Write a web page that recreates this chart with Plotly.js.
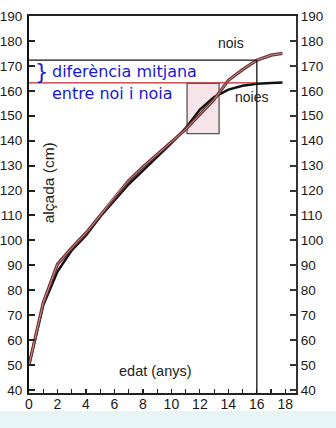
<!DOCTYPE html>
<html>
<head>
<meta charset="utf-8">
<script src="https://cdn.plot.ly/plotly-3.0.1.min.js"></script>
<style>html,body{margin:0;padding:0;background:#fff;}#chart{width:336px;height:428px;}</style>
</head>
<body>
<div id="chart"></div>
<script>
// ages (years)
const girlAges = [0, 1, 2, 3, 4, 5, 6, 7, 8, 9, 10, 11, 12, 13, 14, 15, 16, 17, 17.8];
const girlHeights = [50, 74, 87.5, 96, 102, 109.5, 116, 122.5, 128, 133.5, 139, 145, 152.5, 157.5, 160.5, 162, 162.8, 163.1, 163.3];
const boyAges = [0, 1, 2, 3, 4, 5, 6, 7, 8, 9, 10, 11, 12, 13, 14, 15, 16, 17, 17.8];
const boyHeights = [50, 75, 90.5, 97, 103, 110, 117.5, 124, 129.5, 134.5, 139.5, 144.5, 150.5, 156.5, 164.2, 168.5, 172.3, 174.3, 175];
// reference lines: mean adult heights and the growth-spurt box
const adultBoy = 172.3;
const adultGirl = 163.2;
const adultAge = 16;
const spurtAges = [11.1, 13.35];
const spurtHeights = [142.8, 163];
const yTicks = [40, 50, 60, 70, 80, 90, 100, 110, 120, 130, 140, 150, 160, 170, 180, 190];
const xTicks = [0, 2, 4, 6, 8, 10, 12, 14, 16, 18];

const tickFont = {family: 'Liberation Sans, Arial, sans-serif', size: 13.5, color: '#1a1a1a'};
const labelFont = {family: 'Liberation Sans, Arial, sans-serif', size: 14, color: '#222'};
const blueFont = {family: 'DejaVu Sans, sans-serif', size: 16, color: '#1818d4'};
const traces = [
  {x: girlAges, y: girlHeights, mode: 'lines', line: {color: '#111', width: 2.5}, hoverinfo: 'skip', showlegend: false},
  {x: boyAges, y: boyHeights, mode: 'lines', line: {color: '#6e3232', width: 3.2}, hoverinfo: 'skip', showlegend: false},
  {x: boyAges, y: boyHeights, mode: 'lines', line: {color: '#c98f8f', width: 1}, hoverinfo: 'skip', showlegend: false},
  {x: [], y: [], yaxis: 'y2', mode: 'lines', hoverinfo: 'skip', showlegend: false}
];
const yr = [38.8, 190];
const layout = {
  width: 336, height: 428,
  margin: {l: 29, r: 40, t: 16, b: 35},
  paper_bgcolor: '#ffffff', plot_bgcolor: '#ffffff',
  showlegend: false,
  xaxis: {
    range: [0, 18.75], tickvals: xTicks, ticks: 'inside', ticklen: 4, tickwidth: 1.2, tickcolor: '#222',
    minor: {dtick: 1, tick0: 0, ticks: 'inside', ticklen: 4, tickwidth: 1.2, tickcolor: '#222'},
    showline: true, linecolor: '#222', linewidth: 2, mirror: true, showgrid: false, zeroline: false,
    tickfont: {family: 'Liberation Sans, Arial, sans-serif', size: 14, color: '#1a1a1a'}, ticklabelstandoff: -3
  },
  yaxis: {
    range: yr, tickvals: yTicks, ticks: 'inside', ticklen: 6, tickwidth: 2, tickcolor: '#222',
    showline: true, linecolor: '#111', linewidth: 2, showgrid: false, zeroline: false,
    tickfont: tickFont, ticklabelstandoff: 2
  },
  yaxis2: {
    range: yr, tickvals: yTicks, overlaying: 'y', side: 'right', ticks: 'inside', ticklen: 6, tickwidth: 2, tickcolor: '#333',
    showline: true, linecolor: '#333', linewidth: 2, showgrid: false, zeroline: false,
    tickfont: tickFont, ticklabelstandoff: 0
  },
  shapes: [
    {type: 'rect', xref: 'paper', yref: 'paper', x0: -0.2, x1: 1.3, y0: -0.048, y1: -0.2, fillcolor: '#e8f5f7', line: {width: 0}, layer: 'below'},
    {type: 'rect', xref: 'x', yref: 'y', x0: spurtAges[0], x1: spurtAges[1], y0: spurtHeights[0], y1: spurtHeights[1], fillcolor: 'rgba(238,205,215,0.55)', line: {color: '#555', width: 1.3}, layer: 'below'},
    {type: 'line', xref: 'x', yref: 'y', x0: 0, x1: adultAge, y0: adultBoy, y1: adultBoy, line: {color: '#111', width: 1.3}},
    {type: 'line', xref: 'x', yref: 'y', x0: 0, x1: adultAge, y0: adultGirl, y1: adultGirl, line: {color: '#c02828', width: 1.3}},
    {type: 'line', xref: 'x', yref: 'y', x0: adultAge, x1: adultAge, y0: yr[0], y1: adultBoy, line: {color: '#111', width: 1.3}}
  ],
  annotations: [
    {x: 1.5, y: 167.9, xref: 'x', yref: 'y', text: 'diferència mitjana', showarrow: false, xanchor: 'left', yanchor: 'middle', font: blueFont},
    {x: 1.5, y: 159.1, xref: 'x', yref: 'y', text: 'entre noi i noia', showarrow: false, xanchor: 'left', yanchor: 'middle', font: blueFont},
    {x: 0.9, y: 167.7, xref: 'x', yref: 'y', text: '}', showarrow: false, xanchor: 'center', yanchor: 'middle', font: {family: 'DejaVu Sans, sans-serif', size: 21, color: '#1818d4'}},
    {x: 14.2, y: 179.2, xref: 'x', yref: 'y', text: 'nois', showarrow: false, font: labelFont},
    {x: 15.6, y: 157.5, xref: 'x', yref: 'y', text: 'noies', showarrow: false, font: labelFont},
    {x: 8.9, y: 47.6, xref: 'x', yref: 'y', text: 'edat (anys)', showarrow: false, font: {family: 'Liberation Sans, Arial, sans-serif', size: 14.5, color: '#222'}},
    {x: 1.33, y: 123.3, xref: 'x', yref: 'y', text: 'alçada (cm)', showarrow: false, textangle: -90, font: {family: 'Liberation Sans, Arial, sans-serif', size: 15.5, color: '#222'}}
  ]
};
Plotly.newPlot('chart', traces, layout, {staticPlot: true, displayModeBar: false});
</script>
</body>
</html>
